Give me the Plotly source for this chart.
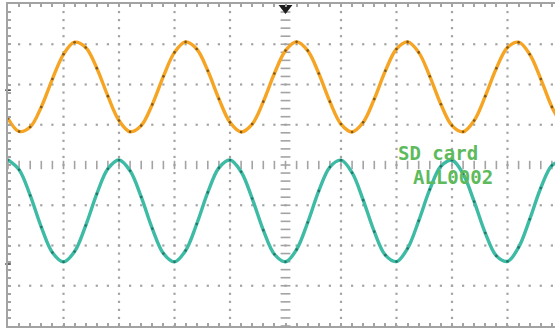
import numpy as np
import plotly.graph_objects as go

# Horizontal position of each sample, in screen divisions (centre = 0)
t_div = [round(-5.0 + 0.2 * i, 1) for i in range(51)]

# Channel 1 (orange) readings, in vertical divisions
ch1 = [1.155, 0.834, 0.945, 1.442, 2.135, 2.750, 3.051, 2.919, 2.406, 1.711,
       1.106, 0.826, 0.979, 1.505, 2.203, 2.798, 3.058, 2.882, 2.340, 1.642,
       1.060, 0.821, 1.017, 1.574, 2.273, 2.842, 3.060, 2.842, 2.273, 1.574,
       1.017, 0.821, 1.060, 1.641, 2.340, 2.882, 3.058, 2.798, 2.203, 1.508,
       0.979, 0.825, 1.106, 1.711, 2.405, 2.919, 3.051, 2.751, 2.135, 1.443,
       0.944]

# Channel 2 (teal) readings, in vertical divisions
ch2 = [0.127, -0.118, -0.756, -1.543, -2.174, -2.407, -2.150, -1.504, -0.718, -0.095,
       0.126, -0.142, -0.794, -1.581, -2.197, -2.406, -2.126, -1.466, -0.681, -0.072,
       0.124, -0.167, -0.833, -1.619, -2.218, -2.403, -2.100, -1.428, -0.643, -0.050,
       0.121, -0.192, -0.873, -1.656, -2.240, -2.399, -2.074, -1.388, -0.607, -0.030,
       0.117, -0.219, -0.911, -1.691, -2.259, -2.394, -2.047, -1.349, -0.571, -0.012,
       0.112]

label_lines = ["SD card", "ALL0002"]

# small reference-level marks on the left edge
level_marks = [1.86, -2.46]

X_MIN, X_MAX = -5.0, 4.856
Y_MIN, Y_MAX = -4.0, 4.0

GRID = "#a3a3a3"
ORANGE = "#f6a423"
TEAL = "#3dbba5"
GREEN = "#5dba5d"

fig = go.Figure()

# dotted graticule: dots every 1/5 division along each major line
gx, gy = [], []
for v in [-4, -3, -2, -1, 1, 2, 3, 4]:
    for s in np.arange(-4.0, 4.001, 0.2):
        gx.append(v); gy.append(s)
for h in [-3, -2, -1, 1, 2, 3]:
    for s in np.arange(-5.0, 5.001, 0.2):
        gx.append(s); gy.append(h)
fig.add_trace(go.Scatter(x=gx, y=gy, mode="markers", hoverinfo="skip",
                         marker=dict(symbol="square", size=2.2, color=GRID)))

# centre cross with short ticks
cx = list(np.arange(-5.0, 5.001, 0.2))
fig.add_trace(go.Scatter(x=cx, y=[0] * len(cx), mode="markers", hoverinfo="skip",
                         marker=dict(symbol="line-ns", size=6,
                                     line=dict(color=GRID, width=1.6))))
cy = list(np.arange(-4.0, 4.001, 0.2))
fig.add_trace(go.Scatter(x=[0] * len(cy), y=cy, mode="markers", hoverinfo="skip",
                         marker=dict(symbol="line-ew", size=7,
                                     line=dict(color=GRID, width=1.6))))

# waveforms
fig.add_trace(go.Scatter(x=t_div, y=ch1, mode="lines", line=dict(color=ORANGE, width=3.4, shape="spline")))
fig.add_trace(go.Scatter(x=t_div, y=ch1, mode="markers",
                         marker=dict(size=2.6, color="#5a3f12", opacity=0.75)))
fig.add_trace(go.Scatter(x=t_div, y=ch2, mode="lines", line=dict(color=TEAL, width=3.4, shape="spline")))
fig.add_trace(go.Scatter(x=t_div, y=ch2, mode="markers",
                         marker=dict(size=2.6, color="#1c5f53", opacity=0.75)))

# trigger position marker at the top centre
fig.add_trace(go.Scatter(x=[0], y=[3.9], mode="markers", cliponaxis=False, hoverinfo="skip",
                         marker=dict(symbol="triangle-down", size=12, color="#1e1e1e")))

# level marks just outside the left border
fig.add_trace(go.Scatter(x=[X_MIN] * len(level_marks), y=level_marks, mode="markers",
                         cliponaxis=False, hoverinfo="skip",
                         marker=dict(symbol="line-ew", size=4,
                                     line=dict(color="#333333", width=1.5))))

fig.add_annotation(x=2.74, y=0.30, text=label_lines[0], showarrow=False,
                   font=dict(family="DejaVu Sans Mono", size=19, color=GREEN, weight="bold"))
fig.add_annotation(x=3.02, y=-0.31, text=label_lines[1], showarrow=False,
                   font=dict(family="DejaVu Sans Mono", size=19, color=GREEN, weight="bold"))

fig.update_xaxes(range=[X_MIN, X_MAX], showgrid=False, zeroline=False,
                 showline=True, linecolor=GRID, linewidth=2, mirror="ticks",
                 ticks="inside", tick0=0, dtick=0.2, ticklen=3, tickwidth=1.5,
                 tickcolor=GRID, showticklabels=False)
fig.update_yaxes(range=[Y_MIN, Y_MAX], showgrid=False, zeroline=False,
                 showline=True, linecolor=GRID, linewidth=2, mirror=False,
                 ticks="inside", tick0=0, dtick=0.2, ticklen=3, tickwidth=1.5,
                 tickcolor=GRID, showticklabels=False)

fig.update_layout(width=555, height=328, margin=dict(l=8, r=0, t=4, b=2),
                  paper_bgcolor="white", plot_bgcolor="white", showlegend=False)

fig.write_html("out.html")
